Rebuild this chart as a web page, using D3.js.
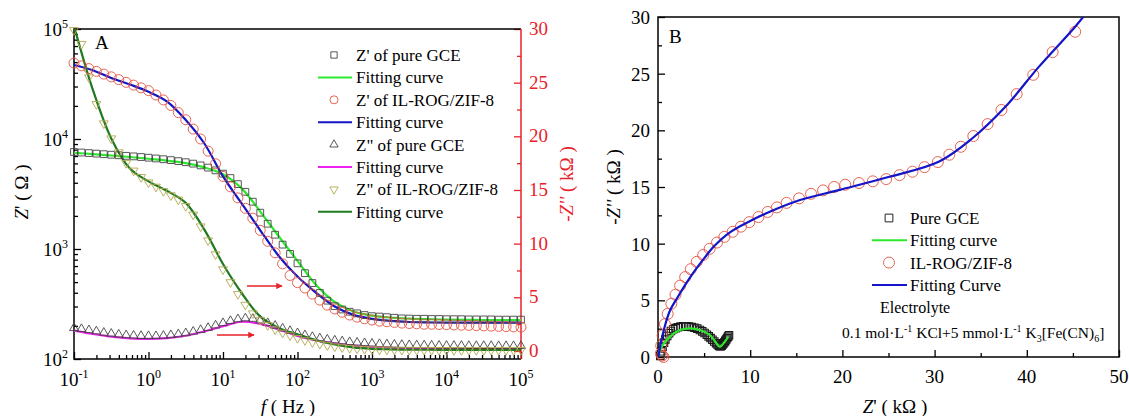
<!DOCTYPE html>
<html>
<head>
<meta charset="utf-8">
<script src="https://cdn.jsdelivr.net/npm/d3@7"></script>
<style>
  body { margin: 0; background: #fff; }
</style>
</head>
<body>
<svg id="chart" width="1129" height="416"></svg>
<script>
// ---- panel A : Bode data (log10 of frequency, Hz) ----
var logFreq = [-1,-0.9,-0.8,-0.7,-0.6,-0.5,-0.4,-0.3,-0.2,-0.1,
  0,0.1,0.2,0.3,0.4,0.5,0.6,0.7,0.8,0.9,
  1,1.1,1.2,1.3,1.4,1.5,1.6,1.7,1.8,1.9,
  2,2.1,2.2,2.3,2.4,2.5,2.6,2.7,2.8,2.9,
  3,3.1,3.2,3.3,3.4,3.5,3.6,3.7,3.8,3.9,
  4,4.1,4.2,4.3,4.4,4.5,4.6,4.7,4.8,4.9,5];

// Z' in Ohm (left axis)
var zReGce = [7621,7534,7447,7362,7278,7194,7112,7031,6950,6855,
  6761,6653,6546,6427,6295,6152,5970,5754,5495,5188,
  4842,4416,3890,3311,2692,2138,1698,1349,1096,902,
  741,603,490,398,339,302,282,269,260,251,
  245,243,240,237,234,233,232,232,231,231,
  230,230,230,229,229,229,229,228,228,228,228];
var zReIl = [48978,46238,43652,41210,38905,36728,34674,32734,30903,29174,
  27542,25119,22646,20184,17378,14962,12303,10000,7762,5957,
  4571,3673,2917,2344,1905,1479,1175,923,733,575,
  495,442,389,343,309,285,266,251,240,232,
  226,221,218,215,212,210,209,207,207,206,
  205,204,203,202,201,200,199,198,197,196,195];
// -Z'' in kOhm (right axis)
var zImGce = [2.14,2.05,1.94,1.83,1.70,1.61,1.53,1.47,1.43,1.40,
  1.39,1.39,1.42,1.48,1.56,1.66,1.80,1.96,2.15,2.38,
  2.60,2.80,2.96,3.04,3.00,2.84,2.60,2.35,2.10,1.87,
  1.66,1.47,1.31,1.18,1.07,0.98,0.90,0.83,0.78,0.73,
  0.69,0.65,0.62,0.59,0.57,0.55,0.53,0.52,0.51,0.50,
  0.49,0.48,0.48,0.47,0.47,0.47,0.47,0.46,0.46,0.46,0.46];
var zImIl = [29.9,28.6,25.5,23.0,21.2,19.8,18.5,17.5,16.8,16.2,
  15.7,15.3,14.9,14.5,14.1,13.5,12.7,11.6,10.3,9.0,
  7.6,6.4,5.3,4.3,3.5,2.9,2.4,2.0,1.7,1.45,
  1.2,1.0,0.82,0.66,0.53,0.42,0.34,0.27,0.22,0.18,
  0.15,0.13,0.12,0.11,0.10,0.10,0.09,0.09,0.09,0.08,
  0.08,0.08,0.08,0.08,0.08,0.08,0.08,0.08,0.08,0.08,0.08];

// fitting curves, read every quarter decade
var fitLogFreq = [-1,-0.75,-0.5,-0.25,0,0.25,0.5,0.75,1,1.25,1.5,1.75,2,
  2.25,2.5,2.75,3,3.25,3.5,3.75,4,4.25,4.5,4.75,5];
var fitReGce = [7500,7300,7080,6860,6610,6350,6030,5520,4790,3560,2190,1300,780,
  470,330,270,248,238,233,230,228,227,226,226,226];
var fitReIl = [47100,42200,35900,31300,26900,21900,14900,9100,4570,2600,1480,860,562,
  400,300,252,232,222,217,215,214,214,214,214,214];
var fitImGce = [1.89,1.58,1.33,1.17,1.12,1.20,1.42,1.82,2.30,2.72,2.52,2.00,1.40,
  0.98,0.70,0.50,0.38,0.30,0.25,0.22,0.20,0.19,0.18,0.18,0.18];
var fitImIl = [30.3,24.4,19.8,17.0,15.8,14.9,13.8,11.3,8.1,5.4,3.2,2.15,1.55,
  1.0,0.6,0.33,0.2,0.15,0.12,0.11,0.1,0.1,0.1,0.1,0.1];

var freqTicks = [-1,0,1,2,3,4,5];
var leftTicks = [2,3,4,5];
var rightTicks = [0,5,10,15,20,25,30];

// ---- panel B : Nyquist data, kOhm ----
var nyIlRe = [0.6,0.45,0.3,0.35,0.5,0.75,1.05,1.45,1.9,2.4,2.95,3.55,4.2,4.9,5.6,6.4,7.2,8.1,9.0,9.9,10.9,11.9,12.9,13.95,15.3,16.6,17.9,19.1,20.3,21.8,23.3,24.75,26.2,27.6,28.9,30.35,31.6,32.85,34.2,35.75,37.25,38.9,40.7,42.8,45.25];
var nyIlIm = [0.0,0.12,0.3,1.0,1.9,2.9,3.8,4.7,5.5,6.3,7.05,7.75,8.4,9.0,9.55,10.1,10.6,11.05,11.5,11.9,12.35,12.8,13.2,13.6,14.0,14.4,14.7,15.0,15.2,15.35,15.5,15.7,16.05,16.35,16.75,17.2,17.85,18.55,19.5,20.55,21.8,23.2,24.9,26.9,28.7];
var nyGceRe = [0.25,0.35,0.5,0.65,0.8,1.0,1.2,1.4,1.65,1.9,2.15,2.45,2.75,3.05,3.35,3.65,3.95,4.25,4.55,4.8,
  5.05,5.3,5.5,5.7,5.9,6.1,6.3,6.45,6.6,6.7,6.8,6.9,7.0,7.1,7.2,7.3,7.4,7.5,7.6,7.7];
var nyGceIm = [0.1,0.5,0.9,1.25,1.55,1.85,2.1,2.3,2.45,2.55,2.63,2.68,2.7,2.7,2.68,2.64,2.58,2.5,2.38,2.26,
  2.12,1.96,1.82,1.67,1.52,1.37,1.22,1.1,1.0,0.95,0.95,1.0,1.1,1.2,1.3,1.42,1.55,1.67,1.8,1.92];
var nyFitIlRe = [0.05,0.3,0.7,1.3,2.0,2.9,3.8,5.0,6.0,7.8,10.0,12.5,15.4,19.7,25.1,30.5,34.1,37.7,41.3,45.2,46.6];
var nyFitIlIm = [0,1.2,2.6,4.1,5.1,6.3,7.4,8.7,9.7,11.0,12.0,12.95,13.85,14.75,15.9,17.25,19.3,22.1,25.6,29.1,30.5];
var nyFitGceRe = [0.05,0.22,1.3,2.38,3.46,4.55,5.63,6.35,6.71,7.25,7.61];
var nyFitGceIm = [0,0.62,1.8,2.38,2.53,2.38,1.94,1.2,0.91,1.35,1.79];

var svg = d3.select('#chart');
var RED = '#e8222a';

var defs = svg.append('defs');
defs.append('clipPath').attr('id', 'clipA').append('rect')
  .attr('x', 74).attr('y', 29).attr('width', 447).attr('height', 330);
defs.append('clipPath').attr('id', 'clipB').append('rect')
  .attr('x', 658).attr('y', 17).attr('width', 461).attr('height', 340);
defs.append('marker').attr('id', 'arrow')
  .attr('viewBox', '0 0 10 10').attr('refX', 9).attr('refY', 5)
  .attr('markerWidth', 4).attr('markerHeight', 4).attr('orient', 'auto')
  .append('path').attr('d', 'M0,0 L10,5 L0,10 z').attr('fill', RED);

function supText(t, base, sup, size) {
  t.append('tspan').text(base);
  t.append('tspan').attr('dy', -8).attr('font-size', size || 12).text(sup);
}

// ================= panel A =================
var xA = d3.scaleLog().domain([0.1, 1e5]).range([74, 521]);
var yAL = d3.scaleLog().domain([100, 1e5]).range([359, 29]);
var yAR = d3.scaleLinear().domain([-0.75, 30]).range([359, 29]);
var gA = svg.append('g');

var minorF = [];
for (var d = -1; d < 5; d++) for (var k = 2; k < 10; k++) minorF.push(k * Math.pow(10, d));
var minorZ = [];
for (var d2 = 2; d2 < 5; d2++) for (var k2 = 2; k2 < 10; k2++) minorZ.push(k2 * Math.pow(10, d2));

function tickAxis(axis, transform, color) {
  var g = gA.append('g').attr('transform', transform).call(axis);
  g.selectAll('line').attr('stroke', color).attr('stroke-width', 1.3);
  g.select('.domain').remove();
  g.selectAll('text').remove();
  return g;
}
tickAxis(d3.axisBottom(xA).tickValues(freqTicks.map(function(e){return Math.pow(10,e);})).tickSize(-7).tickSizeOuter(0), 'translate(0,359)', '#000');
tickAxis(d3.axisBottom(xA).tickValues(minorF).tickSize(-4).tickSizeOuter(0), 'translate(0,359)', '#000');
tickAxis(d3.axisLeft(yAL).tickValues(leftTicks.map(function(e){return Math.pow(10,e);})).tickSize(-7).tickSizeOuter(0), 'translate(74,0)', '#000');
tickAxis(d3.axisLeft(yAL).tickValues(minorZ).tickSize(-4).tickSizeOuter(0), 'translate(74,0)', '#000');
tickAxis(d3.axisRight(yAR).tickValues(rightTicks).tickSize(-7).tickSizeOuter(0), 'translate(521,0)', RED);
tickAxis(d3.axisRight(yAR).tickValues([2.5,7.5,12.5,17.5,22.5,27.5]).tickSize(-4).tickSizeOuter(0), 'translate(521,0)', RED);

gA.append('path').attr('d', 'M521,29 L74,29 L74,359 L521,359').attr('fill', 'none')
  .attr('stroke', '#000').attr('stroke-width', 1.5);
gA.append('line').attr('x1', 521).attr('x2', 521).attr('y1', 29).attr('y2', 359)
  .attr('stroke', RED).attr('stroke-width', 1.5);

var lblA = gA.append('g').attr('font-size', 19);
freqTicks.forEach(function(e) {
  var t = lblA.append('text').attr('x', xA(Math.pow(10, e))).attr('y', 386).attr('text-anchor', 'middle');
  supText(t, '10', String(e));
});
leftTicks.forEach(function(e) {
  var t = lblA.append('text').attr('x', 68).attr('y', yAL(Math.pow(10, e)) + 7).attr('text-anchor', 'end');
  supText(t, '10', String(e));
});
rightTicks.forEach(function(v) {
  lblA.append('text').attr('x', 529).attr('y', yAR(v) + 6).attr('fill', RED).text(v);
});

// series
var fitLine = function(ys, scale) {
  return d3.line()
    .x(function(d, i) { return xA(Math.pow(10, fitLogFreq[i])); })
    .y(function(d) { return scale(d); })
    .curve(d3.curveCatmullRom.alpha(0.5))(ys);
};
var plotA = gA.append('g');
var linesA = plotA.append('g').attr('clip-path', 'url(#clipA)');

function markers(vals, scale, kind, color) {
  var g = plotA.append('g');
  vals.forEach(function(v, i) {
    var x = xA(Math.pow(10, logFreq[i])), y = scale(v);
    if (kind === 'circle') {
      g.append('circle').attr('cx', x).attr('cy', y).attr('r', 5)
        .attr('fill', 'none').attr('stroke', color).attr('stroke-width', 0.9);
    } else {
      var sym = kind === 'square' ? d3.symbolSquare : d3.symbolTriangle;
      var size = kind === 'square' ? 46 : 34;
      var rot = kind === 'down' ? ' rotate(180)' : '';
      g.append('path').attr('d', d3.symbol().type(sym).size(size)())
        .attr('transform', 'translate(' + x + ',' + y + ')' + rot)
        .attr('fill', 'none').attr('stroke', color).attr('stroke-width', 0.9);
    }
  });
}

markers(zReGce, yAL, 'square', '#444');
markers(zReIl, yAL, 'circle', '#e3533f');
markers(zImGce, yAR, 'up', '#444');
markers(zImIl, yAR, 'down', '#b3a850');

linesA.append('path').attr('d', fitLine(fitReGce, yAL)).attr('fill', 'none').attr('stroke', '#2ee82e').attr('stroke-width', 2.2);
linesA.append('path').attr('d', fitLine(fitReIl, yAL)).attr('fill', 'none').attr('stroke', '#1414c8').attr('stroke-width', 2.2);
linesA.append('path').attr('d', fitLine(fitImGce, yAR)).attr('fill', 'none').attr('stroke', '#f020f0').attr('stroke-width', 2.2);
linesA.append('path').attr('d', fitLine(fitImIl, yAR)).attr('fill', 'none').attr('stroke', '#1f7a1f').attr('stroke-width', 2.2);

// arrows pointing to right axis
gA.append('line').attr('x1', 247).attr('x2', 282).attr('y1', 286).attr('y2', 286)
  .attr('stroke', RED).attr('stroke-width', 1.6).attr('marker-end', 'url(#arrow)');
gA.append('line').attr('x1', 217).attr('x2', 254).attr('y1', 335).attr('y2', 335)
  .attr('stroke', RED).attr('stroke-width', 1.6).attr('marker-end', 'url(#arrow)');

gA.append('text').attr('x', 95).attr('y', 49).attr('font-size', 19).text('A');

// legend A
var legendA = [
  { label: "Z' of pure GCE", kind: 'square', color: '#444' },
  { label: 'Fitting curve', kind: 'line', color: '#2ee82e' },
  { label: "Z' of IL-ROG/ZIF-8", kind: 'circle', color: '#e3533f' },
  { label: 'Fitting curve', kind: 'line', color: '#1414c8' },
  { label: 'Z" of pure GCE', kind: 'up', color: '#444' },
  { label: 'Fitting curve', kind: 'line', color: '#f020f0' },
  { label: 'Z" of IL-ROG/ZIF-8', kind: 'down', color: '#b3a850' },
  { label: 'Fitting curve', kind: 'line', color: '#1f7a1f' }
];
var legA = gA.append('g');
legendA.forEach(function(it, i) {
  var y = 55 + i * 22.4;
  if (it.kind === 'line') {
    legA.append('line').attr('x1', 318).attr('x2', 352).attr('y1', y).attr('y2', y)
      .attr('stroke', it.color).attr('stroke-width', 2);
  } else if (it.kind === 'circle') {
    legA.append('circle').attr('cx', 334).attr('cy', y).attr('r', 4)
      .attr('fill', 'none').attr('stroke', it.color).attr('stroke-width', 0.9);
  } else {
    var sym = it.kind === 'square' ? d3.symbolSquare : d3.symbolTriangle;
    legA.append('path').attr('d', d3.symbol().type(sym).size(it.kind === 'square' ? 40 : 30)())
      .attr('transform', 'translate(334,' + y + ')' + (it.kind === 'down' ? ' rotate(180)' : ''))
      .attr('fill', 'none').attr('stroke', it.color).attr('stroke-width', 0.9);
  }
  legA.append('text').attr('x', 356).attr('y', y + 6).attr('font-size', 17).text(it.label);
});

// axis titles A
var tY = gA.append('text').attr('transform', 'translate(28,192) rotate(-90)')
  .attr('text-anchor', 'middle').attr('font-size', 19);
tY.append('tspan').attr('font-style', 'italic').text('Z');
tY.append('tspan').text("' ( \u03A9 )");
var tX = gA.append('text').attr('x', 288).attr('y', 413).attr('text-anchor', 'middle').attr('font-size', 19);
tX.append('tspan').attr('font-style', 'italic').text('f');
tX.append('tspan').text(' ( Hz )');
var tR = gA.append('text').attr('transform', 'translate(573,184) rotate(-90)')
  .attr('text-anchor', 'middle').attr('font-size', 19).attr('fill', RED);
tR.append('tspan').text('-');
tR.append('tspan').attr('font-style', 'italic').text("Z''");
tR.append('tspan').text(' ( k\u03A9 )');

// ================= panel B =================
var xB = d3.scaleLinear().domain([0, 50]).range([658, 1119]);
var yB = d3.scaleLinear().domain([0, 30]).range([357, 17]);
var gB = svg.append('g');

function tickAxisB(axis, transform) {
  var g = gB.append('g').attr('transform', transform).call(axis);
  g.selectAll('line').attr('stroke', '#000').attr('stroke-width', 1.3);
  g.select('.domain').remove();
  g.selectAll('text').remove();
}
tickAxisB(d3.axisBottom(xB).tickValues([0,10,20,30,40,50]).tickSize(-7).tickSizeOuter(0), 'translate(0,357)');
tickAxisB(d3.axisBottom(xB).tickValues([5,15,25,35,45]).tickSize(-4).tickSizeOuter(0), 'translate(0,357)');
tickAxisB(d3.axisLeft(yB).tickValues([0,5,10,15,20,25,30]).tickSize(-7).tickSizeOuter(0), 'translate(658,0)');
tickAxisB(d3.axisLeft(yB).tickValues([2.5,7.5,12.5,17.5,22.5,27.5]).tickSize(-4).tickSizeOuter(0), 'translate(658,0)');
gB.append('rect').attr('x', 658).attr('y', 17).attr('width', 461).attr('height', 340)
  .attr('fill', 'none').attr('stroke', '#000').attr('stroke-width', 1.5);

var lblB = gB.append('g').attr('font-size', 19);
[0,10,20,30,40,50].forEach(function(v) {
  lblB.append('text').attr('x', xB(v)).attr('y', 383).attr('text-anchor', 'middle').text(v);
});
[0,5,10,15,20,25,30].forEach(function(v) {
  lblB.append('text').attr('x', 650).attr('y', yB(v) + 7).attr('text-anchor', 'end').text(v);
});

var nyLine = d3.line().x(function(d) { return xB(d[0]); }).y(function(d) { return yB(d[1]); })
  .curve(d3.curveCatmullRom.alpha(0.5));
var plotB = gB.append('g');
nyGceRe.forEach(function(re, i) {
  plotB.append('path').attr('d', d3.symbol().type(d3.symbolSquare).size(56)())
    .attr('transform', 'translate(' + xB(re) + ',' + yB(nyGceIm[i]) + ')')
    .attr('fill', 'none').attr('stroke', '#1a1a1a').attr('stroke-width', 1.1);
});
nyIlRe.forEach(function(re, i) {
  plotB.append('circle').attr('cx', xB(re)).attr('cy', yB(nyIlIm[i])).attr('r', 5.5)
    .attr('fill', 'none').attr('stroke', '#e3533f').attr('stroke-width', 0.9);
});
var linesB = plotB.append('g').attr('clip-path', 'url(#clipB)');
linesB.append('path').attr('d', nyLine(d3.zip(nyFitGceRe, nyFitGceIm)))
  .attr('fill', 'none').attr('stroke', '#2ee82e').attr('stroke-width', 2.2);
linesB.append('path').attr('d', nyLine(d3.zip(nyFitIlRe, nyFitIlIm)))
  .attr('fill', 'none').attr('stroke', '#1414c8').attr('stroke-width', 2.2);

gB.append('text').attr('x', 669).attr('y', 43).attr('font-size', 19).text('B');

// legend B
var legendB = [
  { label: 'Pure GCE', kind: 'square', color: '#222' },
  { label: 'Fitting curve', kind: 'line', color: '#2ee82e' },
  { label: 'IL-ROG/ZIF-8', kind: 'circle', color: '#e3533f' },
  { label: 'Fitting Curve', kind: 'line', color: '#1414c8' }
];
var legB = gB.append('g');
legendB.forEach(function(it, i) {
  var y = 218 + i * 22.3;
  if (it.kind === 'line') {
    legB.append('line').attr('x1', 872).attr('x2', 907).attr('y1', y).attr('y2', y)
      .attr('stroke', it.color).attr('stroke-width', 2);
  } else if (it.kind === 'circle') {
    legB.append('circle').attr('cx', 889).attr('cy', y).attr('r', 5.5)
      .attr('fill', 'none').attr('stroke', it.color).attr('stroke-width', 0.9);
  } else {
    legB.append('path').attr('d', d3.symbol().type(d3.symbolSquare).size(60)())
      .attr('transform', 'translate(889,' + y + ')')
      .attr('fill', 'none').attr('stroke', it.color).attr('stroke-width', 1);
  }
  legB.append('text').attr('x', 910).attr('y', y + 6).attr('font-size', 17).text(it.label);
});
legB.append('text').attr('x', 880).attr('y', 313).attr('font-size', 16).text('Electrolyte');
var formula = legB.append('text').attr('x', 842).attr('y', 338).attr('font-size', 15.5);
formula.append('tspan').text('0.1 mol\u00B7L');
formula.append('tspan').attr('dy', -6).attr('font-size', 10).text('-1');
formula.append('tspan').attr('dy', 6).text(' KCl+5 mmol\u00B7L');
formula.append('tspan').attr('dy', -6).attr('font-size', 10).text('-1');
formula.append('tspan').attr('dy', 6).text(' K');
formula.append('tspan').attr('dy', 4).attr('font-size', 10).text('3');
formula.append('tspan').attr('dy', -4).text('[Fe(CN)');
formula.append('tspan').attr('dy', 4).attr('font-size', 10).text('6');
formula.append('tspan').attr('dy', -4).text(']');

// axis titles B
var tYB = gB.append('text').attr('transform', 'translate(620,187) rotate(-90)')
  .attr('text-anchor', 'middle').attr('font-size', 19);
tYB.append('tspan').text('-');
tYB.append('tspan').attr('font-style', 'italic').text("Z''");
tYB.append('tspan').text(' ( k\u03A9 )');
var tXB = gB.append('text').attr('x', 895).attr('y', 413).attr('text-anchor', 'middle').attr('font-size', 19);
tXB.append('tspan').attr('font-style', 'italic').text('Z');
tXB.append('tspan').text("' ( k\u03A9 )");

// serif face everywhere (same call style that renders correctly here)
svg.selectAll('text').style('font-family', '"Liberation Serif"');
</script>
</body>
</html>
